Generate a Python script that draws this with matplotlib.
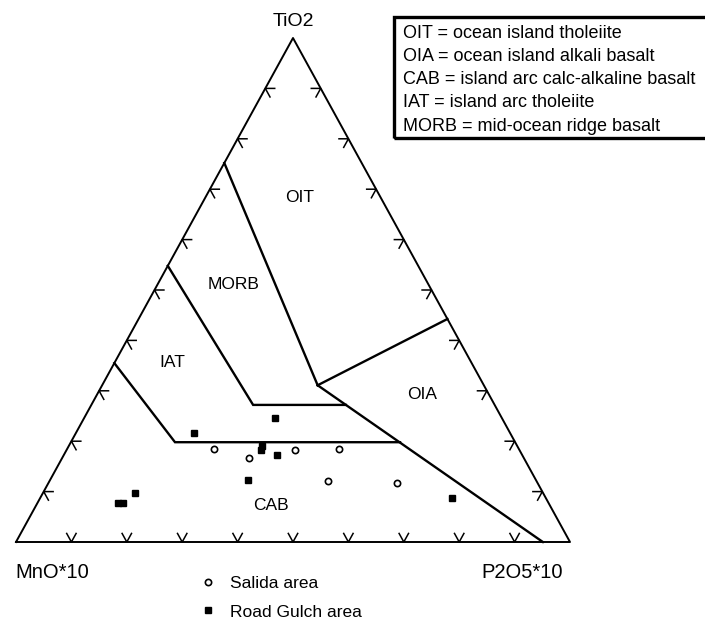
import numpy as np
import matplotlib.pyplot as plt
from matplotlib.patches import Rectangle

plt.rcParams['font.family'] = ['Liberation Sans', 'DejaVu Sans']

H = np.sqrt(3) / 2

# sample compositions (MnO*10, TiO2, P2O5*10), percent of the three
salida_mno = [55.0, 49.6, 40.5, 32.4, 37.6, 25.4]
salida_tio2 = [18.5, 16.6, 18.3, 18.5, 12.2, 11.8]
salida_p2o5 = [26.5, 33.8, 41.2, 49.1, 50.3, 62.8]

road_mno = [40.9, 57.0, 46.2, 46.6, 44.2, 51.9, 17.0, 73.7, 77.8, 76.9]
road_tio2 = [24.7, 21.6, 19.0, 18.2, 17.3, 12.4, 8.7, 9.7, 7.7, 7.7]
road_p2o5 = [34.4, 21.4, 34.9, 35.2, 38.5, 35.7, 74.3, 16.6, 14.5, 15.4]

# field boundaries (Mullen 1983), as (MnO*10, TiO2, P2O5*10) fractions
oit_morb = [(0.248, 0.752, 0.0), (0.300, 0.311, 0.389)]
oit_oia = [(0.300, 0.311, 0.389), (0.0, 0.4425, 0.5575)]
oia_cab = [(0.300, 0.311, 0.389), (0.049, 0.0, 0.951)]
morb_iat = [(0.452, 0.548, 0.0), (0.436, 0.272, 0.292), (0.2685, 0.272, 0.4595)]
iat_cab = [(0.645, 0.355, 0.0), (0.614, 0.198, 0.188), (0.2078, 0.198, 0.5942)]

field_names = ['OIT', 'MORB', 'IAT', 'OIA', 'CAB']
field_pos = [(0.146, 0.683, 0.171), (0.3515, 0.51, 0.1385), (0.540, 0.357, 0.103),
             (0.121, 0.292, 0.587), (0.504, 0.073, 0.423)]

legend_lines = ['OIT = ocean island tholeiite',
                'OIA = ocean island alkali basalt',
                'CAB = island arc calc-alkaline basalt',
                'IAT = island arc tholeiite',
                'MORB = mid-ocean ridge basalt']


def tern(mno, tio2, p2o5):
    mno, tio2, p2o5 = np.asarray(mno, float), np.asarray(tio2, float), np.asarray(p2o5, float)
    s = mno + tio2 + p2o5
    c = tio2 / s
    b = p2o5 / s
    return b + c / 2, c * H


fig = plt.figure(figsize=(7.05, 6.19), dpi=100)
ax = fig.add_axes([16 / 705, 77 / 619, 554 / 705, 504 / 619])
ax.set_xlim(0, 1)
ax.set_ylim(0, H)
ax.axis('off')

# triangle frame
A = np.array([0.0, 0.0])
B = np.array([1.0, 0.0])
C = np.array([0.5, H])
frame = np.array([A, B, C, A])
ax.plot(frame[:, 0], frame[:, 1], color='black', lw=1.4, clip_on=False)

# chevron ticks every 10 %
L = 0.017
for k in range(1, 10):
    f = k / 10
    for P, d1, d2 in [(A + f * (B - A), C - A, C - B),
                      (A + f * (C - A), B - A, B - C),
                      (B + f * (C - B), A - B, A - C)]:
        pts = np.array([P + L * d1, P, P + L * d2])
        ax.plot(pts[:, 0], pts[:, 1], color='black', lw=1.1, clip_on=False)

# field boundaries
for line in [oit_morb, oit_oia, oia_cab, morb_iat, iat_cab]:
    a, c, b = zip(*line)
    x, y = tern(a, c, b)
    ax.plot(x, y, color='black', lw=1.7, clip_on=False, solid_joinstyle='miter')

for name, (a, c, b) in zip(field_names, field_pos):
    x, y = tern(a, c, b)
    ax.text(x, y, name, ha='center', va='center', fontsize=12.5)

# samples
x, y = tern(salida_mno, salida_tio2, salida_p2o5)
h1, = ax.plot(x, y, 'o', ms=4.5, mfc='white', mec='black', mew=1.2,
              label='Salida area', clip_on=False)
x, y = tern(road_mno, road_tio2, road_p2o5)
h2, = ax.plot(x, y, 's', ms=4, color='black', label='Road Gulch area', clip_on=False)

# apex labels
fig.text(293 / 705, 1 - 22 / 619, 'TiO2', ha='center', va='center', fontsize=14)
fig.text(15 / 705, 1 - 573 / 619, 'MnO*10', ha='left', va='center', fontsize=14.5)
fig.text(563 / 705, 1 - 573 / 619, 'P2O5*10', ha='right', va='center', fontsize=14.5)

# sample legend
fig.legend(handles=[h1, h2], loc='upper left', bbox_to_anchor=(192 / 705, 1 - 567 / 619),
           frameon=False, fontsize=12.5, handlelength=0.8, handletextpad=0.9,
           labelspacing=0.78, borderpad=0)

# abbreviation box
fig.patches.append(Rectangle((394 / 705, 1 - 138 / 619), 330 / 705, 121 / 619,
                             transform=fig.transFigure, fill=False, lw=2.4,
                             edgecolor='black'))
for i, t in enumerate(legend_lines):
    fig.text(403 / 705, 1 - (33 + 23.3 * i) / 619, t, ha='left', va='center', fontsize=13)

fig.savefig('out.png', dpi=100)
